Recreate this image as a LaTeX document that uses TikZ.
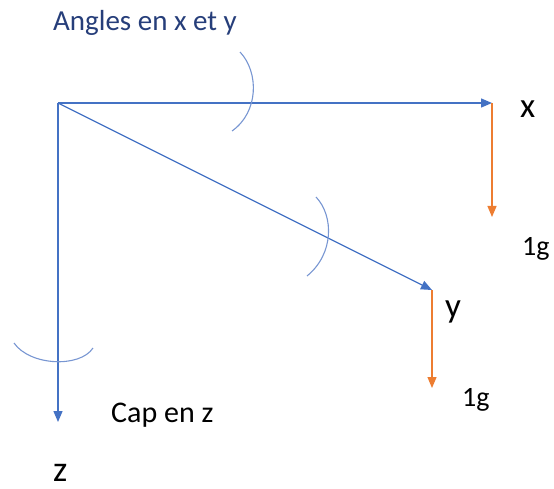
\documentclass[tikz,border=0pt]{standalone}
\usepackage{fontspec}
\setmainfont{Carlito}
\usetikzlibrary{arrows.meta}
\definecolor{axisblue}{RGB}{68,114,196}
\definecolor{gravorange}{RGB}{237,125,49}
\definecolor{titleblue}{RGB}{38,62,122}
\definecolor{arcblue}{RGB}{120,150,210}

\begin{document}
\begin{tikzpicture}[x=1pt,y=1pt,yscale=-1,xscale=1,
  axis/.style={draw=axisblue, line width=1.3, -{Triangle[length=11,width=9]}},
  grav/.style={draw=gravorange, line width=1.3, -{Triangle[length=11,width=9]}},
  rotarc/.style={draw=arcblue, line width=1.1},
  lbl/.style={anchor=base west, inner sep=0pt, font=\fontsize{28}{30}\selectfont}]
\useasboundingbox (0,0) rectangle (554,489);
%Points
\coordinate (O) at (58,103);
\coordinate (xend) at (492,103);
\coordinate (yend) at (432,290);
\coordinate (zend) at (58,422);
\coordinate (gx) at (492,217);
\coordinate (gy) at (432,388);
%Axes
\draw [axis] (O) -- (xend);
\draw [axis] (O) -- (yend);
\draw [axis] (O) -- (zend);
%Gravity
\draw [grav] (xend) -- (gx);
\draw [grav] (yend) -- (gy);
%Curve Lines
\draw [rotarc] (240,52) .. controls (259,72) and (259,112) .. (232,131) ;
\draw [rotarc] (316,197) .. controls (334,216) and (334,254) .. (307,276) ;
\draw [rotarc] (14,343) .. controls (30,366) and (80,368) .. (93,348) ;
% Text Node
\node (title) [lbl, text=titleblue, font=\fontsize{29}{32}\selectfont] at (53,31) {Angles en x et y};
% Text Node
\node (xlbl) [lbl, font=\fontsize{35}{38}\selectfont] at (520,118) {x};
% Text Node
\node (gxlbl) [lbl] at (522,255) {1g};
% Text Node
\node (ylbl) [lbl, font=\fontsize{35}{38}\selectfont] at (445,317) {y};
% Text Node
\node (gylbl) [lbl] at (462,406) {1g};
% Text Node
\node (caplbl) [lbl, font=\fontsize{30}{33}\selectfont] at (111,422) {Cap en z};
% Text Node
\node (zlbl) [lbl, font=\fontsize{36}{40}\selectfont] at (53,481) {z};
\end{tikzpicture}
\end{document}
